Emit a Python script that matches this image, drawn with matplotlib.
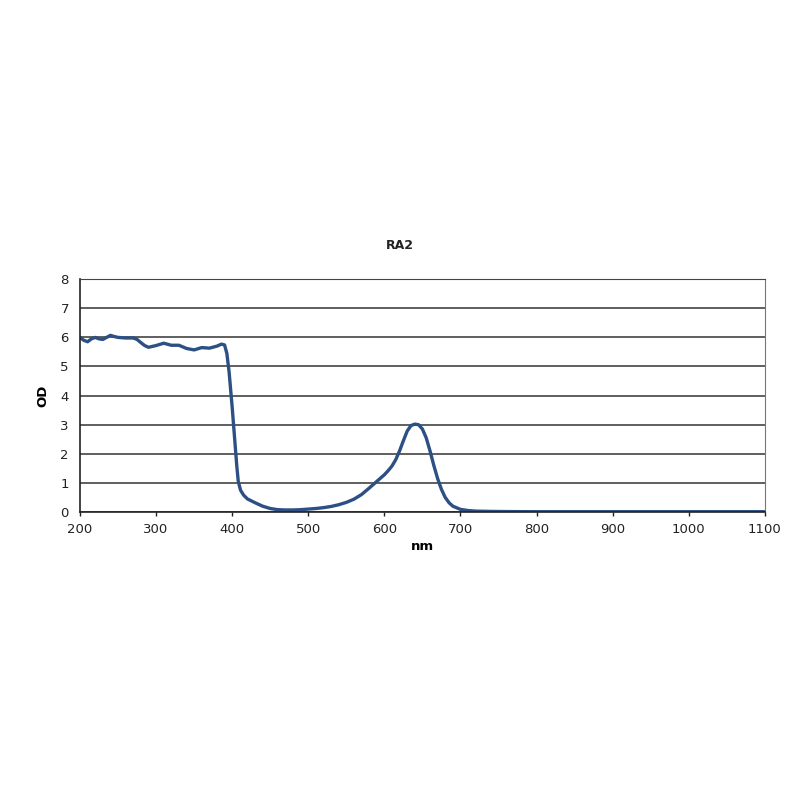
import matplotlib
matplotlib.use("Agg")
import matplotlib.pyplot as plt

plt.rcParams['font.family'] = ['DejaVu Sans']

# ---------- DATA ----------
wavelength = [200, 205, 210, 215, 220, 225, 230, 235, 240, 245, 250, 260, 270, 275,
              280, 285, 290, 300, 310, 320, 330, 340, 350, 360, 370, 380, 386, 390,
              393, 396, 400, 403, 406, 408, 411, 415, 420, 430, 440, 450, 460, 470,
              480, 490, 500, 510, 520, 530, 540, 550, 560, 570, 580, 590, 600, 605,
              610, 615, 620, 625, 630, 635, 640, 645, 650, 655, 660, 665, 670, 675,
              680, 685, 690, 700, 710, 720, 740, 760, 800, 900, 1000, 1100]
od = [6.0, 5.9, 5.85, 5.95, 6.0, 5.95, 5.93, 6.0, 6.07, 6.03, 6.0, 5.98, 5.98, 5.93,
      5.82, 5.72, 5.66, 5.72, 5.8, 5.73, 5.73, 5.62, 5.57, 5.65, 5.63, 5.7, 5.77, 5.74,
      5.45, 4.8, 3.6, 2.6, 1.6, 1.05, 0.75, 0.58, 0.45, 0.32, 0.2, 0.12, 0.08, 0.07,
      0.07, 0.08, 0.1, 0.12, 0.15, 0.19, 0.25, 0.33, 0.44, 0.6, 0.82, 1.05, 1.28, 1.42,
      1.58, 1.8, 2.1, 2.45, 2.78, 2.97, 3.02, 3.0, 2.85, 2.55, 2.1, 1.6, 1.15, 0.78,
      0.5, 0.32, 0.2, 0.09, 0.05, 0.03, 0.02, 0.015, 0.01, 0.01, 0.01, 0.01]

x_ticks = [200, 300, 400, 500, 600, 700, 800, 900, 1000, 1100]
y_ticks = [0, 1, 2, 3, 4, 5, 6, 7, 8]

# ---------- PLOT ----------
fig = plt.figure(figsize=(8, 8), dpi=100)
ax = fig.add_axes([0.1, 0.36, 0.856, 0.291])

ax.plot(wavelength, od, color='#2c5083', linewidth=2.4,
        solid_joinstyle='round', solid_capstyle='round')

ax.set_xlim(200, 1100)
ax.set_ylim(0, 8)
ax.set_xticks(x_ticks)
ax.set_yticks(y_ticks)
ax.tick_params(axis='x', length=3, width=1, direction='out', labelsize=9.5,
               pad=5, colors='#222222')
ax.tick_params(axis='y', length=0, labelsize=9.5, pad=8, colors='#222222')
ax.grid(True, axis='y', color='#444444', linewidth=1.2)
ax.set_axisbelow(True)

for side in ['left', 'bottom']:
    ax.spines[side].set_color('#222222')
    ax.spines[side].set_linewidth(1.2)
ax.spines['right'].set_color('#777777')
ax.spines['top'].set_color('#444444')

fig.text(0.5, 0.693, "RA2", ha='center', va='center', fontsize=9,
         fontweight='bold', color='#222222')
ax.set_xlabel("nm", fontsize=9.5, fontweight='bold', labelpad=3)
ax.set_ylabel("OD", fontsize=9.5, fontweight='bold', labelpad=8)

fig.savefig("out.png", dpi=100)
